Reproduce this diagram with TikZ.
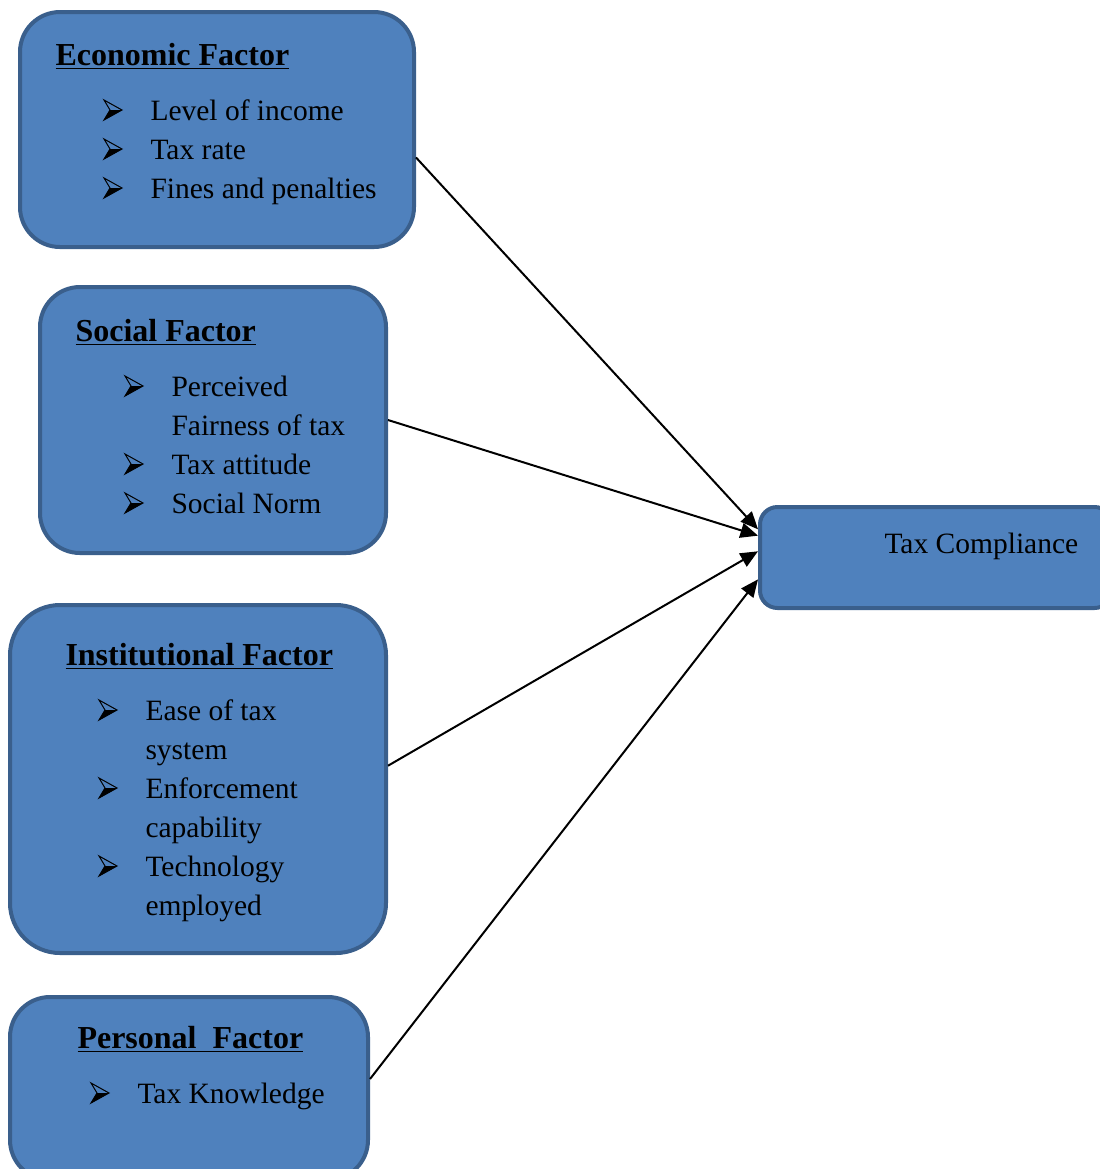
\documentclass[tikz,border=0pt]{standalone}
\usepackage{fontspec}
\setmainfont{Liberation Serif}
\usetikzlibrary{arrows.meta, fit}

\definecolor{boxfill}{HTML}{4F81BD}
\definecolor{boxline}{HTML}{3A5F8C}

\tikzstyle{factor} = [rectangle, draw=boxline, fill=boxfill, line width=1.6pt, rounded corners=16pt, inner sep=0pt]
\tikzstyle{title}  = [anchor=base west, inner sep=0pt, font=\fontsize{12.8}{15.6}\selectfont\bfseries]
\tikzstyle{items}  = [anchor=base west, inner sep=0pt, font=\fontsize{11.8}{15.6}\selectfont]
\tikzstyle{link}   = [line width=0.8pt, -{Triangle[length=7pt,width=6pt]}, black]

\newcommand{\arrowbullet}{\tikz[x=1pt,y=1pt,baseline=0pt,line width=0.4pt,line join=miter]{%
  \draw[black] (0,8) -- (7.2,4) -- (0,0) -- (2.4,4) -- cycle;
  \fill[black] (2.4,4) -- (7.2,4) -- (0,0) -- cycle;}}
\newcommand{\itemrows}[1]{\begin{tabular}[t]{@{}p{18.8pt}@{}l@{}}#1\end{tabular}}

\begin{document}
\begin{tikzpicture}[x=0.4pt, y=-0.4pt]
	\useasboundingbox (0,0) rectangle (1100,1169);

	% Factor boxes
	\node (econ)     [factor, fit={(20,12) (414,247)}] {};
	\node (social)   [factor, fit={(40,287) (386,553)}] {};
	\node (inst)     [factor, rounded corners=20pt, fit={(10,605) (386,953)}] {};
	\node (personal) [factor, fit={(10,997) (368,1180)}] {};
	\node (tax)      [factor, rounded corners=7pt, fit={(760,507) (1112,608)}] {};

	% Economic
	\node (econ_title) [title] at (55,65) {\underline{Economic Factor}};
	\node (econ_items) [items] at (103,120) {\itemrows{%
		\arrowbullet & Level of income\\
		\arrowbullet & Tax rate\\
		\arrowbullet & Fines and penalties}};

	% Social
	\node (social_title) [title] at (75,341) {\underline{Social Factor}};
	\node (social_items) [items] at (124,396) {\itemrows{%
		\arrowbullet & Perceived\\
		             & Fairness of tax\\
		\arrowbullet & Tax attitude\\
		\arrowbullet & Social Norm}};

	% Institutional
	\node (inst_title) [title] at (65,665) {\underline{Institutional Factor}};
	\node (inst_items) [items] at (98,720) {\itemrows{%
		\arrowbullet & Ease of tax\\
		             & system\\
		\arrowbullet & Enforcement\\
		             & capability\\
		\arrowbullet & Technology\\
		             & employed}};

	% Personal
	\node (personal_title) [title] at (77,1048) {\underline{Personal\ \ Factor}};
	\node (personal_items) [items] at (90,1103) {\itemrows{%
		\arrowbullet & Tax Knowledge}};

	% Outcome
	\node (tax_text) [items] at (884,553) {Tax Compliance};

	% Arrows
	\draw[link] (econ.-8)     -- (tax.171.4);
	\draw[link] (social.-0.7) -- (tax.173.3);
	\draw[link] (inst.4.6)    -- (tax.178.9);
	\draw[link] (personal.3.7) -- (tax.187.3);

\end{tikzpicture}
\end{document}
